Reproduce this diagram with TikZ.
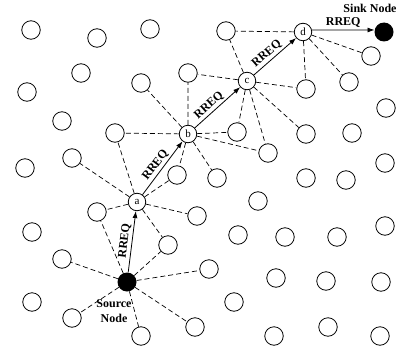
\documentclass[tikz,border=0pt]{standalone}
\usepackage{fontspec}
\setmainfont{Liberation Serif}
\usetikzlibrary{positioning,arrows.meta}
\tikzset{>={Latex[length=7pt,width=5pt]}}
\tikzset{
  sensor/.style={draw,circle,minimum size=18.5pt,inner sep=0pt,line width=.8pt},
  hop/.style={draw,circle,fill=white,minimum size=17.5pt,inner sep=0pt,line width=.8pt,font=\fontsize{11}{12}\selectfont},
  endnode/.style={circle,fill=black,minimum size=19pt,inner sep=0pt},
  link/.style={dash pattern=on 5pt off 3pt,line width=.7pt},
  msg/.style={font=\bfseries\fontsize{12}{14}\selectfont,above,sloped,inner sep=2pt}
}

\begin{document}
\begin{tikzpicture}[x=1pt,y=-1pt]
\useasboundingbox (0,0) rectangle (398,353);
% plain sensor nodes
\node[sensor] (p1) at (31,30) {};
\node[sensor] (p2) at (97,38) {};
\node[sensor] (p3) at (150,29) {};
\node[sensor] (p4) at (226,31) {};
\node[sensor] (p5) at (81,73) {};
\node[sensor] (p6) at (141,83) {};
\node[sensor] (p7) at (188,73) {};
\node[sensor] (p8) at (27,92) {};
\node[sensor] (p9) at (62,121) {};
\node[sensor] (p10) at (115,133) {};
\node[sensor] (p11) at (72,158) {};
\node[sensor] (p12) at (25,168) {};
\node[sensor] (p13) at (177,175) {};
\node[sensor] (p14) at (217,178) {};
\node[sensor] (p15) at (97,212) {};
\node[sensor] (p16) at (197,216) {};
\node[sensor] (p17) at (32,232) {};
\node[sensor] (p18) at (168,245) {};
\node[sensor] (p19) at (62,259) {};
\node[sensor] (p20) at (32,302) {};
\node[sensor] (p21) at (72,318) {};
\node[sensor] (p22) at (141,336) {};
\node[sensor] (p23) at (195,327) {};
\node[sensor] (p24) at (209,269) {};
\node[sensor] (p25) at (234,302) {};
\node[sensor] (p26) at (258,201) {};
\node[sensor] (p27) at (238,235) {};
\node[sensor] (p28) at (285,237) {};
\node[sensor] (p29) at (337,237) {};
\node[sensor] (p30) at (385,226) {};
\node[sensor] (p31) at (276,278) {};
\node[sensor] (p32) at (326,281) {};
\node[sensor] (p33) at (381,282) {};
\node[sensor] (p34) at (274,336) {};
\node[sensor] (p35) at (328,327) {};
\node[sensor] (p36) at (380,336) {};
\node[sensor] (p37) at (371,56) {};
\node[sensor] (p38) at (306,89) {};
\node[sensor] (p39) at (349,82) {};
\node[sensor] (p40) at (386,108) {};
\node[sensor] (p41) at (237,132) {};
\node[sensor] (p42) at (306,134) {};
\node[sensor] (p43) at (352,133) {};
\node[sensor] (p44) at (268,153) {};
\node[sensor] (p45) at (385,163) {};
\node[sensor] (p46) at (306,178) {};
\node[sensor] (p47) at (346,180) {};
% route nodes
\node[endnode] (src) at (127,282) {};
\node[hop] (a) at (137,202) {a};
\node[hop] (b) at (188,134) {b};
\node[hop] (c) at (247,81) {c};
\node[hop] (d) at (303,32) {d};
\node[endnode] (sink) at (384,32) {};
\node[align=center,font=\bfseries\fontsize{12}{15}\selectfont] (srctext) at (114,311) {Source\\Node};
\node[font=\bfseries\fontsize{12}{14}\selectfont] (sinktext) at (370,8) {Sink Node};
% neighbour links
\draw[link] (src) -- (p15) (src) -- (p18) (src) -- (p19) (src) -- (p21)
  (src) -- (p22) (src) -- (p23) (src) -- (p24);
\draw[link] (a) -- (p15) (a) -- (p11) (a) -- (p10) (a) -- (p13) (a) -- (p16) (a) -- (p18);
\draw[link] (b) -- (p10) (b) -- (p6) (b) -- (p7) (b) -- (p41) (b) -- (p44) (b) -- (p13) (b) -- (p14);
\draw[link] (c) -- (p7) (c) -- (p4) (c) -- (p38) (c) -- (p41) (c) -- (p44) (c) -- (p42);
\draw[link] (d) -- (p4) (d) -- (p38) (d) -- (p39) (d) -- (p37);
% RREQ path
\draw[->,line width=.8pt] (src) -- node[msg,pos=.5] {RREQ} (a);
\draw[->,line width=.8pt] (a) -- node[msg,pos=.47] {RREQ} (b);
\draw[->,line width=.8pt] (b) -- node[msg,pos=.42] {RREQ} (c);
\draw[->,line width=.8pt] (c) -- node[msg,pos=.42] {RREQ} (d);
\draw[->,line width=.8pt] (d.12) -- node[msg] {RREQ} (sink.168);
\end{tikzpicture}
\end{document}
